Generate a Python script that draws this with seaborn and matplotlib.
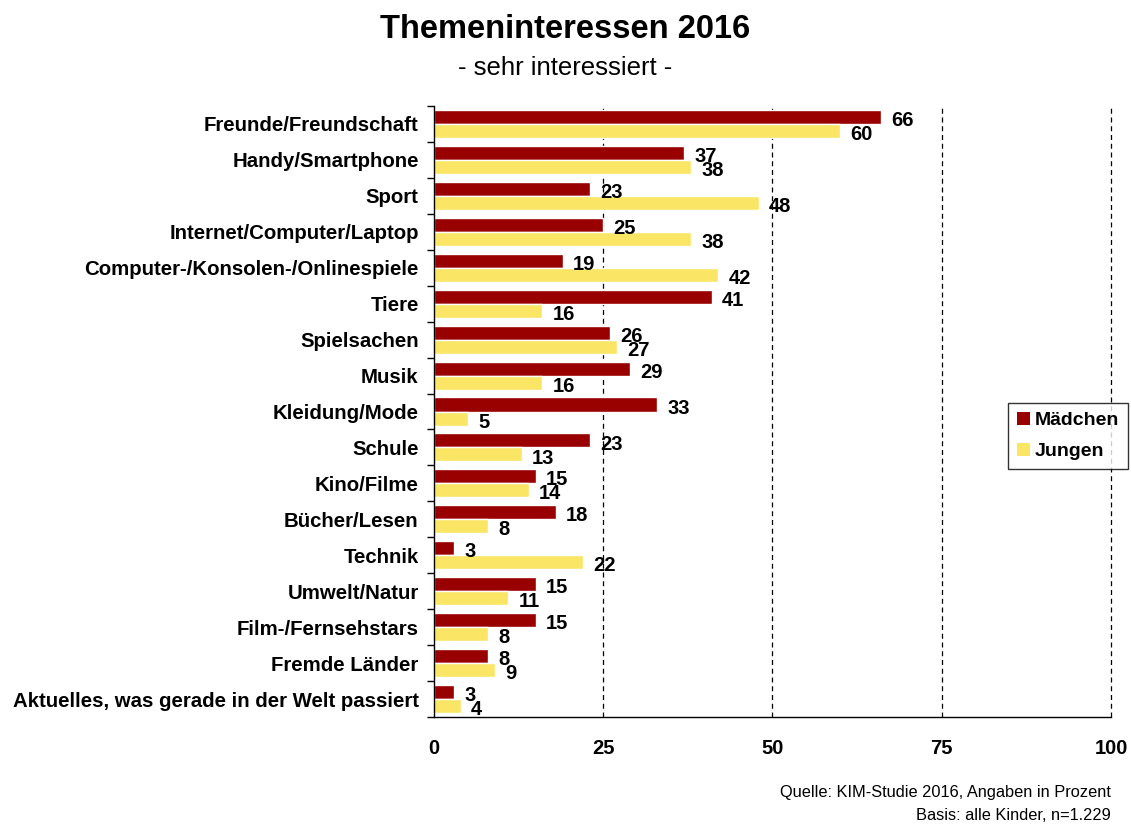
import pandas as pd
import matplotlib
matplotlib.use("Agg")
import matplotlib.pyplot as plt
import seaborn as sns
from matplotlib.patches import Patch


# =========================
# DATA
# =========================

themen = [
    "Freunde/Freundschaft",
    "Handy/Smartphone",
    "Sport",
    "Internet/Computer/Laptop",
    "Computer-/Konsolen-/Onlinespiele",
    "Tiere",
    "Spielsachen",
    "Musik",
    "Kleidung/Mode",
    "Schule",
    "Kino/Filme",
    "Bücher/Lesen",
    "Technik",
    "Umwelt/Natur",
    "Film-/Fernsehstars",
    "Fremde Länder",
    "Aktuelles, was gerade in der Welt passiert",
]

maedchen = [66, 37, 23, 25, 19, 41, 26, 29, 33, 23, 15, 18, 3, 15, 15, 8, 3]

jungen = [60, 38, 48, 38, 42, 16, 27, 16, 5, 13, 14, 8, 22, 11, 8, 9, 4]

gruppen = ["Mädchen", "Jungen"]

farben = ["#990000", "#FAE565"]

x_ticks = [0, 25, 50, 75, 100]


df = pd.DataFrame({
    "Thema": themen * 2,
    "Gruppe": [gruppen[0]] * len(themen) + [gruppen[1]] * len(themen),
    "Wert": maedchen + jungen,
})


# =========================
# STYLE
# =========================

sns.set_style("white")

plt.rcParams["font.family"] = ["Liberation Sans", "DejaVu Sans"]
plt.rcParams["text.color"] = "black"
plt.rcParams["xtick.color"] = "black"
plt.rcParams["ytick.color"] = "black"
plt.rcParams["axes.labelcolor"] = "black"


# =========================
# PLOT
# =========================

fig = plt.figure(figsize=(11.31, 8.25), dpi=100)

ax = fig.add_axes([0.3837, 0.1309, 0.5986, 0.7406])

sns.barplot(
    data=df,
    y="Thema",
    x="Wert",
    hue="Gruppe",
    order=themen,
    hue_order=gruppen,
    palette=farben,
    orient="h",
    width=0.78,
    saturation=1,
    ax=ax,
    legend=False,
)

# value labels
for container in ax.containers:
    for patch in container:
        wert = patch.get_width()
        ax.text(
            wert + 1.5,
            patch.get_y() + patch.get_height() / 2 + 0.1,
            f"{wert:.0f}",
            ha="left",
            va="center",
            fontsize=14.5,
            fontweight="bold",
            color="black",
        )

ax.set_xlim(0, 100)
ax.set_ylim(len(themen) - 0.5, -0.5)

ax.set_xticks(x_ticks)
ax.set_xticklabels([str(t) for t in x_ticks], fontsize=14.5, fontweight="bold")
ax.tick_params(axis="x", length=0, pad=16)

ax.set_yticks(range(len(themen)))
ax.set_yticklabels(themen, fontsize=14.7, fontweight="bold")
ax.tick_params(axis="y", which="major", length=0, pad=11)
ax.set_yticks([i - 0.5 for i in range(len(themen) + 1)], minor=True)
ax.tick_params(axis="y", which="minor", length=5, direction="out", width=1, color="black", left=True)

ax.set_xlabel("")
ax.set_ylabel("")

for t in x_ticks[1:]:
    ax.axvline(t, color="black", linestyle=(0, (4, 3)), linewidth=0.9, zorder=0, clip_on=False)

for side in ["top", "right"]:
    ax.spines[side].set_visible(False)
for side in ["left", "bottom"]:
    ax.spines[side].set_color("black")
    ax.spines[side].set_linewidth(1)


# =========================
# LEGEND
# =========================

handles = [Patch(facecolor=c, edgecolor="none") for c in farben]

leg = fig.legend(
    handles,
    gruppen,
    loc="center",
    bbox_to_anchor=(1068 / 1131, 1 - 436 / 825),
    bbox_transform=fig.transFigure,
    fancybox=False,
    frameon=True,
    edgecolor="black",
    handlelength=0.7,
    handleheight=0.7,
    handletextpad=0.25,
    labelspacing=0.7,
    borderpad=0.45,
    borderaxespad=0,
    prop={"size": 14, "weight": "bold"},
)
leg.get_frame().set_linewidth(1)


# =========================
# TITLES / SOURCE
# =========================

fig.text(0.5, 0.964, "Themeninteressen 2016", ha="center", va="center",
         fontsize=23.5, fontweight="bold")

fig.text(0.5, 0.917, "- sehr interessiert -", ha="center", va="center",
         fontsize=18.5)

fig.text(0.982, 0.040, "Quelle: KIM-Studie 2016, Angaben in Prozent",
         ha="right", va="center", fontsize=11.8)

fig.text(0.982, 0.012, "Basis: alle Kinder, n=1.229",
         ha="right", va="center", fontsize=11.8)


plt.savefig("out.png", dpi=100)
